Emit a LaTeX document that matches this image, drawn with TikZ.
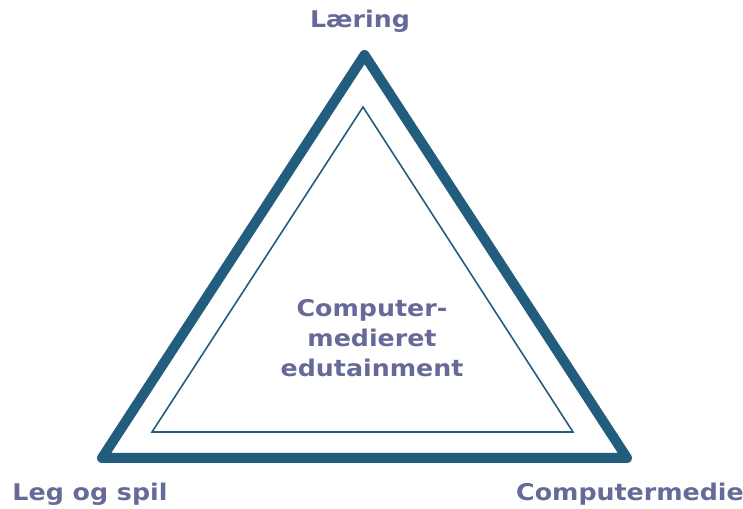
\documentclass[tikz,border=0pt]{standalone}
\usepackage{fontspec}
\newfontfamily\labelfont[FakeStretch=1.1]{DejaVu Sans}
\definecolor{edge}{HTML}{235D7E}
\definecolor{label}{HTML}{676A98}
\begin{document}
\begin{tikzpicture}[x=1pt,y=1pt,
  lbl/.style={font=\labelfont\bfseries\fontsize{23}{30}\selectfont, text=label, inner sep=0pt},
  outer/.style={draw=edge, line width=10pt, line join=round},
  inner/.style={draw=edge, line width=1.6pt, line join=miter}]
  \useasboundingbox (0,0) rectangle (743,508);
  % corners of the two triangles
  \coordinate (A) at (364.5,453);
  \coordinate (B) at (102,50);
  \coordinate (C) at (627,50);
  \coordinate (a) at (363,401);
  \coordinate (b) at (152,76);
  \coordinate (c) at (573,76);
  \draw[outer] (A) -- (B) -- (C) -- cycle;
  \draw[inner] (a) -- (b) -- (c) -- cycle;
  % corner labels
  \node[lbl, anchor=base] (laering) at (360,480) {Læring};
  \node[lbl, anchor=base] (leg) at (90,8) {Leg og spil};
  \node[lbl, anchor=base] (medie) at (630,8) {Computermedie};
  % centre label
  \node[lbl, anchor=base, align=center] (centre) at (372,131) {Computer-\\medieret\\edutainment};
\end{tikzpicture}
\end{document}
